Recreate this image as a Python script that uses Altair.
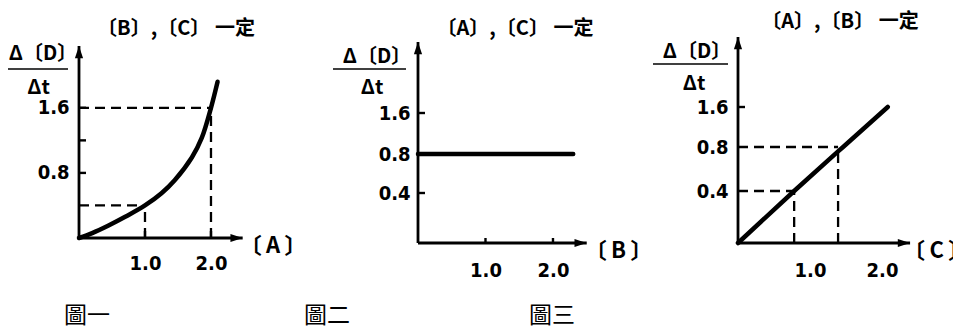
import altair as alt
import pandas as pd

NUM_FONT = "DejaVu Sans Condensed, DejaVu Sans, sans-serif"
CJK_FONT = "Noto Sans CJK TC"

# ---------------- data ----------------
y_name_top = "Δ〔D〕"
y_name_bottom = "Δt"
captions = ["圖一", "圖二", "圖三"]

# Figure 1: rate vs [A]
p1_title = "〔B〕,〔C〕 一定"
p1_xname = "〔\u2009A\u2009〕"
p1_conc = [0.0, 0.2, 0.44, 0.7, 1.0, 1.25, 1.45, 1.71, 1.86, 2.0, 2.1]
p1_rate = [0.0, 0.06, 0.15, 0.26, 0.4, 0.55, 0.71, 0.99, 1.23, 1.6, 1.92]
p1_read_x = [1.0, 2.0]
p1_read_y = [0.4, 1.6]
p1_xlabels = [1.0, 2.0]
p1_xticks = [1.0, 2.0]
p1_ylabels = [0.8, 1.6]
p1_yticks = [0.8, 1.2, 1.6]
p1_axis_end = [2.48, 2.36]

# Figure 2: rate vs [B]
p2_title = "〔A〕,〔C〕 一定"
p2_xname = "〔\u2009B\u2009〕"
p2_conc = [0.0, 2.3]
p2_rate = [0.8, 0.8]
p2_read_x = []
p2_read_y = []
p2_xlabels = [1.0, 2.0]
p2_xticks = [1.0, 2.0]
p2_ylabels = [0.4, 0.8, 1.6]
p2_yticks = [0.4, 1.6]
p2_axis_end = [2.5, 3.0]

# Figure 3: rate vs [C]
p3_title = "〔A〕,〔B〕 一定"
p3_xname = "〔\u2009C\u2009〕"
p3_conc = [0.0, 0.78, 1.39, 1.46, 2.08]
p3_rate = [0.0, 0.4, 0.76, 0.8, 1.6]
p3_read_x = [0.78, 1.39]
p3_read_y = [0.4, 0.8]
p3_xlabels = [1.0, 2.0]
p3_xticks = []
p3_ylabels = [0.4, 0.8, 1.6]
p3_yticks = [1.6]
p3_axis_end = [2.39, 3.0]

UP = "M0,0L-0.67,2L0.67,2Z"
RIGHT = "M0,0L-2,-0.67L-2,0.67Z"


def panel(conc, rate, read_x, read_y, xlabels, xticks, ylabels, yticks, axis_end,
          title, xname, caption, lay):
    xs = alt.Scale(domain=lay["xdom"], nice=False, zero=False)
    ys = alt.Scale(domain=lay["ydom"], range=lay["yrange"], nice=False, zero=False)
    xaxis = alt.Axis(values=xlabels, format=".1f", domain=False, ticks=False, tickSize=0,
                     grid=False, labelFont=NUM_FONT, labelFontSize=20, labelFontWeight="bold",
                     labelColor="black", labelPadding=lay["xpad"], labelBaseline="middle",
                     labelAngle=0, title=None)
    yaxis = alt.Axis(values=ylabels, format=".1f", domain=False, ticks=False, tickSize=0,
                     grid=False, labelFont=NUM_FONT, labelFontSize=20, labelFontWeight="bold",
                     labelColor="black", labelPadding=lay["ypad"], labelBaseline="middle",
                     title=None)

    curve_df = pd.DataFrame({"x": conc, "y": rate})
    base = alt.Chart(curve_df).mark_line(color="black", strokeWidth=4.5,
                                         interpolate=lay["interp"], strokeCap="round").encode(
        x=alt.X("x:Q", scale=xs, axis=xaxis),
        y=alt.Y("y:Q", scale=ys, axis=yaxis),
    )
    layers = []

    if read_x:
        g = pd.DataFrame({"gx": read_x, "gy": read_y, "zero": [0.0] * len(read_x)})
        dash = dict(color="black", strokeWidth=2.3, strokeDash=[10, 6])
        layers.append(alt.Chart(g).mark_rule(**dash).encode(
            x="zero:Q", x2="gx:Q", y="gy:Q"))
        layers.append(alt.Chart(g).mark_rule(**dash).encode(
            x="gx:Q", y="zero:Q", y2="gy:Q"))

    ax = pd.DataFrame({"xe": [axis_end[0]], "ye": [axis_end[1]], "zero": [0.0]})
    layers.append(alt.Chart(ax).mark_rule(color="black", strokeWidth=2.8).encode(
        x="zero:Q", x2="xe:Q", y="zero:Q"))
    layers.append(alt.Chart(ax).mark_rule(color="black", strokeWidth=2.8).encode(
        x="zero:Q", y="zero:Q", y2="ye:Q"))
    layers.append(alt.Chart(ax).mark_point(shape=RIGHT, filled=True, size=150, color="black",
                                           opacity=1).encode(x="xe:Q", y="zero:Q"))
    layers.append(alt.Chart(ax).mark_point(shape=UP, filled=True, size=150, color="black",
                                           opacity=1).encode(x="zero:Q", y="ye:Q"))
    layers.append(alt.Chart(pd.DataFrame({"xe": [axis_end[0]], "zero": [0.0], "t": [xname]}))
                  .mark_text(font=CJK_FONT, fontSize=22, fontWeight="bold", align="left",
                             baseline="middle", dx=lay["name_dx"], dy=8, color="black")
                  .encode(x="xe:Q", y="zero:Q", text="t:N"))

    if yticks:
        t = pd.DataFrame({"v": yticks, "zero": [0.0] * len(yticks)})
        layers.append(alt.Chart(t).mark_tick(orient="horizontal", size=7, thickness=2.4,
                                             xOffset=3.5, color="black", opacity=1)
                      .encode(x="zero:Q", y="v:Q"))
    if xticks:
        t = pd.DataFrame({"v": xticks, "zero": [0.0] * len(xticks)})
        layers.append(alt.Chart(t).mark_tick(orient="vertical", size=lay["xtick"], thickness=2.4,
                                             yOffset=-lay["xtick"] / 2, color="black", opacity=1)
                      .encode(x="v:Q", y="zero:Q"))

    layers.append(base)

    def txt(s, pos, size, font=CJK_FONT, weight="bold"):
        return alt.Chart(pd.DataFrame({"t": [s]})).mark_text(
            font=font, fontSize=size, fontWeight=weight, align="center", baseline="middle",
            color="black").encode(x=alt.value(pos[0]), y=alt.value(pos[1]), text="t:N")

    layers.append(txt(title, lay["title"], 20))
    layers.append(txt(y_name_top, lay["dtop"], 20))
    layers.append(txt(y_name_bottom, lay["dbot"], 20))
    layers.append(alt.Chart(pd.DataFrame({"t": [0]})).mark_rule(color="black", strokeWidth=1.6)
                  .encode(x=alt.value(lay["bar"][0]), x2=alt.value(lay["bar"][1]),
                          y=alt.value(lay["bar"][2])))
    layers.append(txt(caption, lay["cap"], 23, weight="normal"))

    return alt.layer(*layers).properties(width=lay["w"], height=206)


lay1 = dict(w=189, xdom=[0, 2.864], ydom=[0, 2.36], yrange=[201, 9], xpad=20, ypad=10,
            interp="catmull-rom", name_dx=-3, xtick=7, title=(97, -8.5), dtop=(-36, 17),
            dbot=(-40.5, 51), bar=(-74, -11, 32), cap=(8, 279))
lay2 = dict(w=170, xdom=[0, 2.519], ydom=[0, 0.4, 0.8, 1.6, 3.0], yrange=[206, 156, 117, 76, 5],
            xpad=27, ypad=8, interp="linear", name_dx=-2, xtick=5, title=(97, -8),
            dtop=(-41, 20), dbot=(-46, 51), bar=(-85, -12, 32), cap=(-91, 279))
lay3 = dict(w=180, xdom=[0, 2.5], ydom=[0, 0.4, 0.8, 1.6, 3.0], yrange=[206, 154, 110, 70, 0],
            xpad=27, ypad=10, interp="linear", name_dx=-7, xtick=5, title=(102, -15),
            dtop=(-41, 15), dbot=(-44, 47), bar=(-85, -10, 27), cap=(-186, 279))

c1 = panel(p1_conc, p1_rate, p1_read_x, p1_read_y, p1_xlabels, p1_xticks, p1_ylabels, p1_yticks,
           p1_axis_end, p1_title, p1_xname, captions[0], lay1)
c2 = panel(p2_conc, p2_rate, p2_read_x, p2_read_y, p2_xlabels, p2_xticks, p2_ylabels, p2_yticks,
           p2_axis_end, p2_title, p2_xname, captions[1], lay2)
c3 = panel(p3_conc, p3_rate, p3_read_x, p3_read_y, p3_xlabels, p3_xticks, p3_ylabels, p3_yticks,
           p3_axis_end, p3_title, p3_xname, captions[2], lay3)

# fixed canvas: 945 x 319 inside the 8px page margin, first plot area at (71, 29)
chart = alt.hconcat(c1, c2, c3, spacing=150, bounds="flush").properties(
    autosize=alt.AutoSizeParams(type="none"),
    padding={"left": 71, "top": 29, "right": 874, "bottom": 290},
    background="white",
).configure_view(stroke=None)

chart.save("out.html", embed_options={"renderer": "svg", "actions": False})
